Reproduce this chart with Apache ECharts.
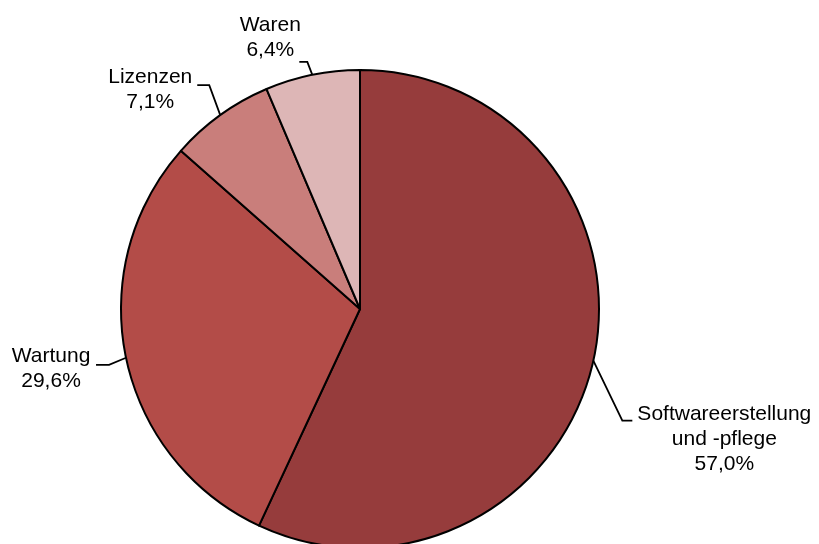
<!DOCTYPE html>
<html>
<head>
<meta charset="utf-8">
<script src="https://cdn.jsdelivr.net/npm/echarts@6/dist/echarts.min.js"></script>
<style>
  html, body { margin: 0; padding: 0; background: #ffffff; }
  #chart { width: 819px; height: 544px; }
</style>
</head>
<body>
<div id="chart"></div>
<script>
// Umsatzanteile nach Bereichen (in Prozent)
const categories = ['Softwareerstellung\nund -pflege', 'Wartung', 'Lizenzen', 'Waren'];
const shares = [57.0, 29.6, 7.1, 6.4];
const sliceColors = ['#963c3c', '#b34c48', '#c97e7b', '#ddb6b6'];

// Leader line geometry, relative to where each line leaves the slice edge:
// bend point, end point, and the centre of the label block.
const leaderBend = [[29, 60], [-17, 7], [-11, -30], [-5, -13]];
const leaderEnd = [[39, 60], [-30, 7], [-23, -30], [-13, -13]];
const labelOffset = [[131, 78], [-75, 11], [-70, -25], [-42, -37]];

const chart = echarts.init(document.getElementById('chart'), null, { renderer: 'canvas' });

const data = categories.map((name, i) => ({
  name: name,
  value: shares[i],
  itemStyle: { color: sliceColors[i] }
}));

chart.setOption({
  animation: false,
  backgroundColor: '#ffffff',
  series: [{
    type: 'pie',
    center: [360, 309],
    radius: 239,
    startAngle: 90,
    clockwise: true,
    data: data,
    itemStyle: { borderColor: '#000000', borderWidth: 2 },
    label: {
      show: true,
      position: 'outside',
      formatter: p => p.name + '\n' + p.value.toFixed(1).replace('.', ',') + '%',
      fontFamily: '"Liberation Sans", Arial, sans-serif',
      fontSize: 21,
      lineHeight: 25,
      color: '#000000',
      overflow: 'none'
    },
    labelLine: {
      show: true,
      smooth: false,
      length: 10,
      length2: 10,
      lineStyle: { color: '#000000', width: 1.8 }
    },
    labelLayout: function (params) {
      const i = params.dataIndex;
      const start = params.labelLinePoints[0];
      const sx = start[0], sy = start[1];
      return {
        x: sx + labelOffset[i][0],
        y: sy + labelOffset[i][1],
        align: 'center',
        verticalAlign: 'middle',
        labelLinePoints: [
          [sx, sy],
          [sx + leaderBend[i][0], sy + leaderBend[i][1]],
          [sx + leaderEnd[i][0], sy + leaderEnd[i][1]]
        ]
      };
    },
    emphasis: { disabled: true }
  }]
});
</script>
</body>
</html>
